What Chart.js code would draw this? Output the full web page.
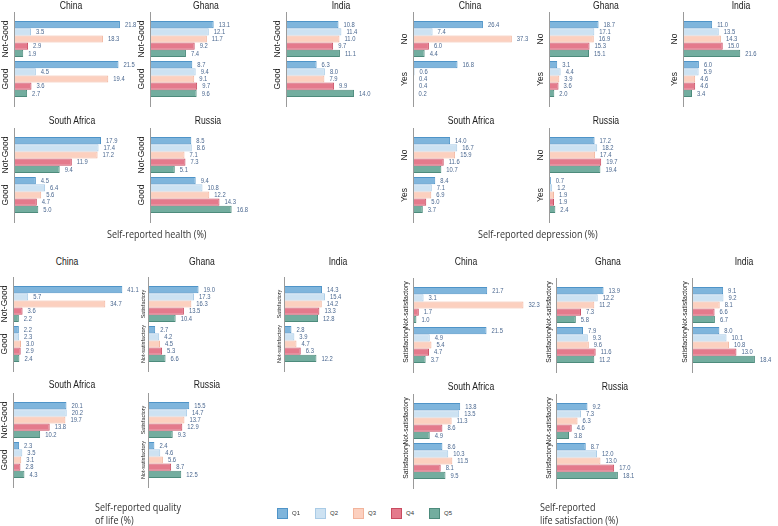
<!DOCTYPE html>
<html>
<head>
<meta charset="utf-8">
<script src="https://cdn.jsdelivr.net/npm/chart.js@4.4.0/dist/chart.umd.min.js"></script>
<style>
  body { margin: 0; background: #fff; }
  #page { position: relative; width: 778px; height: 526px; overflow: hidden; font-family: "Liberation Sans", Arial, sans-serif; }
  .box { position: absolute; }
  .title { position: absolute; font-size: 10px; color: #222; white-space: nowrap; transform: translateX(-50%) scaleX(0.86); line-height: 10px; }
  .axis-note { position: absolute; font-family: "Open Sans", sans-serif; font-size: 11px; line-height: 13px; color: #333; white-space: nowrap; transform: scaleX(0.82); transform-origin: left top; }
  .leg { position: absolute; font-size: 6px; color: #333; line-height: 11px; white-space: nowrap; }
  .leg span { display: inline-block; width: 9px; height: 9px; vertical-align: middle; margin-right: 4px; border: 1px solid; }
</style>
</head>
<body>
<div id="page"></div>
<script>
const countries = ['China', 'Ghana', 'India', 'South Africa', 'Russia'];
const quintiles = ['Q1', 'Q2', 'Q3', 'Q4', 'Q5'];

// Self-reported health (%)
const healthCats = [['Not-Good', 'Good'], ['Not-Good', 'Good'], ['Not-Good', 'Good'], ['Not-Good', 'Good'], ['Not-Good', 'Good']];
const healthUpper = [
  [21.8, 3.5, 18.3, 2.9, 1.9],
  [13.1, 12.1, 11.7, 9.2, 7.4],
  [10.8, 11.4, 11.0, 9.7, 11.1],
  [17.9, 17.4, 17.2, 11.9, 9.4],
  [8.5, 8.6, 7.1, 7.3, 5.1]
];
const healthLower = [
  [21.5, 4.5, 19.4, 3.6, 2.7],
  [8.7, 9.4, 9.1, 9.7, 9.6],
  [6.3, 8.0, 7.9, 9.9, 14.0],
  [4.5, 6.4, 5.6, 4.7, 5.0],
  [9.4, 10.8, 12.2, 14.3, 16.8]
];

// Self-reported depression (%)
const depressionCats = [['No', 'Yes'], ['No', 'Yes'], ['No', 'Yes'], ['No', 'Yes'], ['No', 'Yes']];
const depressionUpper = [
  [26.4, 7.4, 37.3, 6.0, 4.4],
  [18.7, 17.1, 16.9, 15.3, 15.1],
  [11.0, 13.5, 14.3, 15.0, 21.6],
  [14.0, 16.7, 15.9, 11.6, 10.7],
  [17.2, 18.2, 17.4, 19.7, 19.4]
];
const depressionLower = [
  [16.8, 0.6, 0.4, 0.4, 0.2],
  [3.1, 4.4, 3.9, 3.6, 2.0],
  [6.0, 5.9, 4.6, 4.6, 3.4],
  [8.4, 7.1, 6.9, 5.0, 3.7],
  [0.7, 1.2, 1.9, 1.9, 2.4]
];

// Self-reported quality of life (%)
const qolCats = [['Not-Good', 'Good'], ['Satisfactory', 'Not-satisfactory'], ['Satisfactory', 'Not-satisfactory'], ['Not-Good', 'Good'], ['Satisfactory', 'Not-satisfactory']];
const qolUpper = [
  [41.1, 5.7, 34.7, 3.6, 2.2],
  [19.0, 17.3, 16.3, 13.5, 10.4],
  [14.3, 15.4, 14.2, 13.3, 12.8],
  [20.1, 20.2, 19.7, 13.8, 10.2],
  [15.5, 14.7, 13.7, 12.9, 9.3]
];
const qolLower = [
  [2.2, 2.3, 3.0, 2.9, 2.4],
  [2.7, 4.2, 4.5, 5.3, 6.6],
  [2.8, 3.9, 4.7, 6.3, 12.2],
  [2.3, 3.5, 3.1, 2.8, 4.3],
  [2.4, 4.6, 5.6, 8.7, 12.5]
];

// Self-reported life satisfaction (%)
const lifeCats = [['Not-satisfactory', 'Satisfactory'], ['Not-satisfactory', 'Satisfactory'], ['Not-satisfactory', 'Satisfactory'], ['Not-satisfactory', 'Satisfactory'], ['Not-satisfactory', 'Satisfactory']];
const lifeUpper = [
  [21.7, 3.1, 32.3, 1.7, 1.0],
  [13.9, 12.2, 11.2, 7.3, 5.8],
  [9.1, 9.2, 8.1, 6.6, 6.7],
  [13.8, 13.5, 11.3, 8.6, 4.9],
  [9.2, 7.3, 6.3, 4.6, 3.8]
];
const lifeLower = [
  [21.5, 4.9, 5.4, 4.7, 3.7],
  [7.9, 9.3, 9.6, 11.6, 11.2],
  [8.0, 10.1, 10.8, 13.0, 18.4],
  [8.6, 10.3, 11.5, 8.1, 9.5],
  [8.7, 12.0, 13.0, 17.0, 18.1]
];

const fills = ['#7fb5dc', '#cde2f2', '#fcd0bf', '#e47a8c', '#73ad9f'];
const borders = ['#4f94c8', '#a9cbe6', '#f2b49c', '#c94b60', '#4d8b7c'];

const page = document.getElementById('page');

// spine, rotated category labels and value labels
const decor = {
  id: 'decor',
  afterDatasetsDraw(chart, args, opts) {
    const { ctx, chartArea } = chart;
    const yScale = chart.scales.y;
    ctx.save();
    ctx.strokeStyle = '#9a9a9a';
    ctx.lineWidth = 1;
    ctx.beginPath();
    ctx.moveTo(Math.round(chartArea.left) + 0.5, chartArea.top - 7);
    ctx.lineTo(Math.round(chartArea.left) + 0.5, chartArea.bottom + 8);
    ctx.stroke();

    ctx.fillStyle = '#222';
    ctx.font = opts.catSize + 'px "Liberation Sans", Arial, sans-serif';
    ctx.textAlign = 'center';
    ctx.textBaseline = 'middle';
    chart.data.labels.forEach((lab, i) => {
      ctx.save();
      ctx.translate(chartArea.left - opts.catGap, yScale.getPixelForValue(i));
      ctx.rotate(-Math.PI / 2);
      ctx.fillText(lab, 0, 0);
      ctx.restore();
    });

    ctx.fillStyle = '#4b6890';
    ctx.font = '6.5px "Liberation Sans", Arial, sans-serif';
    ctx.textAlign = 'left';
    chart.data.datasets.forEach((ds, di) => {
      chart.getDatasetMeta(di).data.forEach((bar, i) => {
        ctx.save();
        ctx.translate(bar.x + 5, bar.y + 0.5);
        ctx.scale(0.9, 1);
        ctx.fillText(ds.data[i].toFixed(1), 0, 0);
        ctx.restore();
      });
    });
    ctx.restore();
  }
};

function addText(cls, html, left, top) {
  const d = document.createElement('div');
  d.className = cls;
  d.innerHTML = html;
  d.style.left = left + 'px';
  d.style.top = top + 'px';
  page.appendChild(d);
}

function drawSmall(cats, upper, lower, pxPerUnit, spineX, areaTop, titleX, titleY, ci, catSize, catGap) {
  const padL = 24, padR = 50, padT = 12, padB = 12, W = 112, H = 80;
  const box = document.createElement('div');
  box.className = 'box';
  box.style.left = (spineX - padL) + 'px';
  box.style.top = (areaTop - padT) + 'px';
  const canvas = document.createElement('canvas');
  canvas.width = padL + W + padR;
  canvas.height = padT + H + padB;
  box.appendChild(canvas);
  page.appendChild(box);

  new Chart(canvas, {
    type: 'bar',
    data: {
      labels: cats[ci],
      datasets: quintiles.map((q, qi) => ({
        label: q,
        data: [upper[ci][qi], lower[ci][qi]],
        backgroundColor: fills[qi],
        borderColor: borders[qi],
        borderWidth: 1,
        categoryPercentage: 0.9,
        barPercentage: 1.0
      }))
    },
    options: {
      indexAxis: 'y',
      responsive: false,
      animation: false,
      devicePixelRatio: 1,
      layout: { padding: { left: padL, right: padR, top: padT, bottom: padB } },
      scales: {
        x: { display: false, min: 0, max: W / pxPerUnit },
        y: { display: false, offset: true }
      },
      plugins: {
        legend: { display: false },
        tooltip: { enabled: false },
        decor: { catSize: catSize, catGap: catGap }
      }
    },
    plugins: [decor]
  });

  addText('title', countries[ci], titleX, titleY - 5);
}

// health
[[14, 19, 71, 6], [150, 19, 206, 6], [286, 19, 341, 6], [14, 135, 72, 121], [150, 135, 208, 121]].forEach((p, ci) =>
  drawSmall(healthCats, healthUpper, healthLower, 4.86, p[0], p[1], p[2], p[3], ci, 8.5, 8));
// depression
[[413, 19, 470, 6], [549, 19, 606, 6], [683, 19, 741, 6], [413, 135, 471, 121], [549, 135, 606, 121]].forEach((p, ci) =>
  drawSmall(depressionCats, depressionUpper, depressionLower, 2.65, p[0], p[1], p[2], p[3], ci, 8.5, 8));
// quality of life
[[13, 284, 67, 262], [148, 284, 202, 262], [284, 284, 338, 262], [13, 400, 72, 385], [148, 400, 207, 385]].forEach((p, ci) =>
  drawSmall(qolCats, qolUpper, qolLower, 2.66, p[0], p[1], p[2], p[3], ci, ci === 0 || ci === 3 ? 8.5 : 5.5, ci === 0 || ci === 3 ? 8 : 5));
// life satisfaction
[[413, 285, 466, 262], [556, 285, 608, 262], [692, 285, 744, 262], [413, 401, 471, 387], [556, 401, 615, 387]].forEach((p, ci) =>
  drawSmall(lifeCats, lifeUpper, lifeLower, 3.42, p[0], p[1], p[2], p[3], ci, 6.8, 7));

addText('axis-note', 'Self-reported health (%)', 107, 227);
addText('axis-note', 'Self-reported depression (%)', 478, 227);
addText('axis-note', 'Self-reported quality<br>of life (%)', 95, 500);
addText('axis-note', 'Self-reported<br>life satisfaction (%)', 540, 500);

quintiles.forEach((q, qi) => {
  addText('leg', '<span style="background:' + fills[qi] + ';border-color:' + borders[qi] + '"></span>' + q, 277 + qi * 38, 508);
});
</script>
</body>
</html>
